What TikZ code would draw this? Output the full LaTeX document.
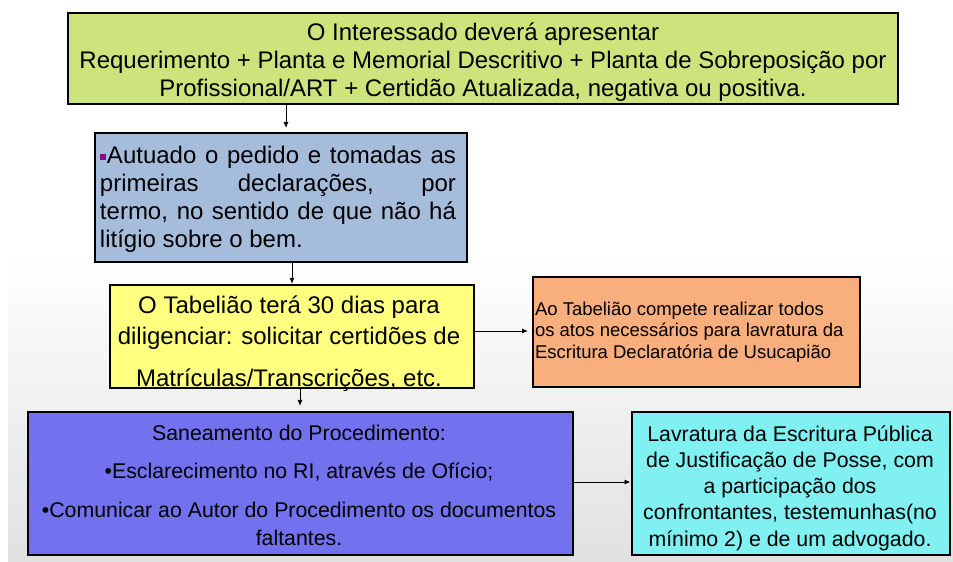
\documentclass[tikz,border=0pt]{standalone}
\usepackage{fontspec}
\setmainfont{Liberation Sans}
\usetikzlibrary{arrows.meta}
\definecolor{cgreen}{HTML}{CDE47C}
\definecolor{cblue}{HTML}{A5BCDB}
\definecolor{cyellow}{HTML}{FFFF80}
\definecolor{corange}{HTML}{F9AE7D}
\definecolor{cpurple}{HTML}{7272EF}
\definecolor{ccyan}{HTML}{80F0F0}
\definecolor{cbullet}{HTML}{8A0A8A}
\begin{document}
\begin{tikzpicture}[x=1bp,y=-1bp]
\tikzset{
  box/.style={draw=black, line width=2.2bp, inner sep=0pt, outer sep=0pt},
  txt/.style={inner sep=0pt, outer sep=0pt, text=black},
  arr/.style={line width=0.9bp, -{Latex[length=6bp,width=5bp]}},
}
\useasboundingbox (0,0) rectangle (953,562);
\fill[white] (0,0) rectangle (953,562);
\shade[top color=white, bottom color=black!12] (8,255) rectangle (953,562);

% boxes
\node[box, fill=cgreen, minimum width=830bp, minimum height=91bp] (green) at (483,58.5) {};
\node[box, fill=cblue, minimum width=372bp, minimum height=129bp] (blue) at (281,197.5) {};
\node[box, fill=cyellow, minimum width=364bp, minimum height=103bp] (yellow) at (292,336.5) {};
\node[box, fill=corange, minimum width=327bp, minimum height=110bp] (orange) at (696.5,332) {};
\node[box, fill=cpurple, minimum width=545bp, minimum height=143bp] (purple) at (300.5,483.5) {};
\node[box, fill=ccyan, minimum width=318bp, minimum height=143bp] (cyan) at (791,483.5) {};

% texts
\node[txt, align=center, font=\fontsize{24bp}{28.3bp}\selectfont] (greentext) at (483,62)
  {O Interessado deverá apresentar\\Requerimento + Planta e Memorial Descritivo + Planta de Sobreposição por\\Profissional/ART + Certidão Atualizada, negativa ou positiva.};

\node[txt, align=left, text width=356bp, font=\fontsize{24bp}{28bp}\selectfont] (bluetext) at (278,199)
  {\spaceskip=0pt\xspaceskip=0pt
   \makebox[356bp][s]{\textcolor{cbullet}{\raisebox{3bp}{\rule{6bp}{6bp}}}\hspace{1bp}Autuado o pedido e tomadas as}\\
   \makebox[356bp][s]{primeiras declarações, por}\\
   \makebox[356bp][s]{termo, no sentido de que não há}\\
   litígio sobre o bem.};

\node[txt, align=center, font=\fontsize{24bp}{31bp}\selectfont] (yellowtext) at (289,344)
  {O Tabelião terá 30 dias para\\diligenciar: solicitar certidões de\\[11bp]Matrículas/Transcrições, etc.};

\node[txt, align=left, anchor=west, font=\fontsize{18.5bp}{21.5bp}\selectfont] (orangetext) at (535,332)
  {Ao Tabelião compete realizar todos\\os atos necessários para lavratura da\\Escritura Declaratória de Usucapião};

\node[txt, align=center, font=\fontsize{21.3bp}{28bp}\selectfont] (purpletext) at (299,485)
  {Saneamento do Procedimento:\\[10bp]•Esclarecimento no RI, através de Ofício;\\[11bp]•Comunicar ao Autor do Procedimento os documentos\\faltantes.};

\node[txt, align=center, font=\fontsize{21.3bp}{26.25bp}\selectfont] (cyantext) at (790,488)
  {Lavratura da Escritura Pública\\de Justificação de Posse, com\\a participação dos\\confrontantes, testemunhas(no\\mínimo 2) e de um advogado.};

% connectors
\coordinate (a1) at (286,0);
\coordinate (a2) at (292,0);
\coordinate (a3) at (0,331);
\coordinate (a4) at (300,0);
\coordinate (a5) at (0,482);
\draw[arr, shorten >=5bp] (green.south -| a1) -- (blue.north -| a1);
\draw[arr, shorten >=1.1bp] (blue.south -| a2) -- (yellow.north -| a2);
\draw[arr, shorten >=5bp] (yellow.east |- a3) -- (orange.west |- a3);
\draw[arr, shorten >=6bp] (yellow.south -| a4) -- (purple.north -| a4);
\draw[arr, shorten >=1.5bp] (purple.east |- a5) -- (cyan.west |- a5);
\end{tikzpicture}
\end{document}
